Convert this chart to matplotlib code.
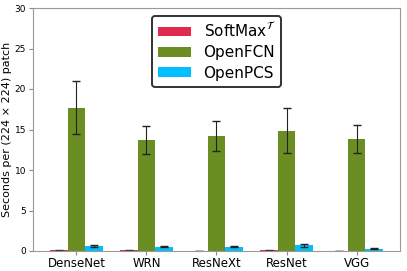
import matplotlib
matplotlib.use("Agg")
import matplotlib.pyplot as plt
import numpy as np

models = ["DenseNet", "WRN", "ResNeXt", "ResNet", "VGG"]
softmax = [0.08, 0.07, 0.05, 0.07, 0.05]
softmax_err = [0.02, 0.02, 0.01, 0.02, 0.01]
openfcn = [17.7, 13.75, 14.2, 14.85, 13.85]
openfcn_err = [3.25, 1.72, 1.9, 2.8, 1.75]
openpcs = [0.65, 0.52, 0.52, 0.68, 0.28]
openpcs_err = [0.12, 0.05, 0.05, 0.15, 0.03]

fig = plt.figure(figsize=(4.07, 2.71), dpi=100)
ax = fig.add_axes([33/407, 20/271, 367/407, 243/271])
x = np.arange(len(models))
w = 0.25
ax.bar(x - w, softmax, w, yerr=softmax_err, color='#DC143C', alpha=0.9, label=r'SoftMax$^{\mathcal{T}}$',
       error_kw=dict(ecolor='#333333', capsize=3, elinewidth=0.8))
ax.bar(x, openfcn, w, yerr=openfcn_err, color='#6B8E23', label='OpenFCN',
       error_kw=dict(ecolor='#222222', capsize=3, elinewidth=0.8))
ax.bar(x + w, openpcs, w, yerr=openpcs_err, color='#00BFFF', label='OpenPCS',
       error_kw=dict(ecolor='#222222', capsize=3, elinewidth=0.8))
ax.set_xlim(-0.62, 4.62)
ax.set_ylim(0, 30)
ax.set_xticks(x)
ax.set_xticklabels(models, fontsize=8.5)
ax.set_yticks([0, 5, 10, 15, 20, 25, 30])
ax.tick_params(axis='y', labelsize=6.5, length=3, pad=2, color='#888888')
ax.tick_params(axis='x', length=3, pad=1, color='#888888')
ax.set_ylabel('Seconds per (224 × 224) patch', fontsize=8)
ax.yaxis.set_label_coords(-0.058, 0.5)
for s in ax.spines.values():
    s.set_color('#999999')
leg = ax.legend(loc='upper center', fontsize=11, frameon=True, fancybox=True,
                handlelength=2.2, handleheight=0.6, borderpad=0.4, labelspacing=0.35)
leg.get_frame().set_edgecolor('#333333')
leg.get_frame().set_linewidth(1.4)
leg.get_frame().set_alpha(1)
fig.savefig('out.png', dpi=100)
